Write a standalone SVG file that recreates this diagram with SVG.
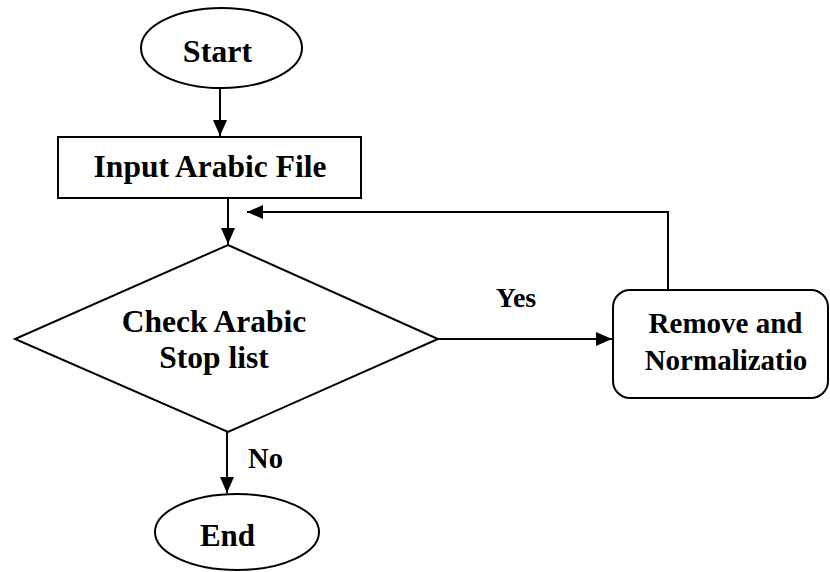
<svg xmlns="http://www.w3.org/2000/svg" width="830" height="572" viewBox="0 0 830 572">
<defs>
<style>
.shape{fill:#fff;stroke:#000;stroke-width:2}
.line{fill:none;stroke:#000;stroke-width:2}
.t{font-family:"Liberation Serif","Times New Roman",serif;font-weight:bold;fill:#000;text-anchor:middle}
</style>
<marker id="arr" viewBox="0 0 16 14" refX="16" refY="7" markerWidth="16" markerHeight="14" markerUnits="userSpaceOnUse" orient="auto">
<path d="M0,0 L16,7 L0,14 Z" fill="#000"/>
</marker>
</defs>
<rect width="830" height="572" fill="#fff"/>
<g id="connectors">
<line class="line" x1="220" y1="88" x2="220" y2="136" marker-end="url(#arr)"/>
<line class="line" x1="228" y1="198" x2="228" y2="244" marker-end="url(#arr)"/>
<polyline class="line" points="668,290 668,212 247,212" marker-end="url(#arr)"/>
<line class="line" x1="438" y1="339" x2="612" y2="339" marker-end="url(#arr)"/>
<line class="line" x1="227" y1="432" x2="227" y2="493" marker-end="url(#arr)"/>
</g>
<g id="start">
<ellipse class="shape" cx="221.5" cy="48" rx="80.5" ry="40"/>
<text class="t" x="217.5" y="62" font-size="32">Start</text>
</g>
<g id="input">
<rect class="shape" x="58" y="137" width="303" height="61"/>
<text class="t" x="210" y="177" font-size="31.5">Input Arabic File</text>
</g>
<g id="check">
<polygon class="shape" points="228,245 438,339 228,432 15,339"/>
<text class="t" x="214" y="332" font-size="31.5">Check Arabic</text>
<text class="t" x="214" y="368" font-size="31.5">Stop list</text>
</g>
<g id="remove">
<rect class="shape" x="613" y="290" width="215" height="108" rx="17" ry="17"/>
<text class="t" x="725.5" y="333" font-size="29">Remove and</text>
<text class="t" x="726" y="370" font-size="29">Normalizatio</text>
</g>
<g id="end">
<ellipse class="shape" cx="237" cy="532" rx="82" ry="38"/>
<text class="t" x="227.5" y="546" font-size="31">End</text>
</g>
<g id="labels">
<text class="t" x="516" y="307" font-size="28">Yes</text>
<text class="t" x="265.5" y="468" font-size="28.5">No</text>
</g>
</svg>
